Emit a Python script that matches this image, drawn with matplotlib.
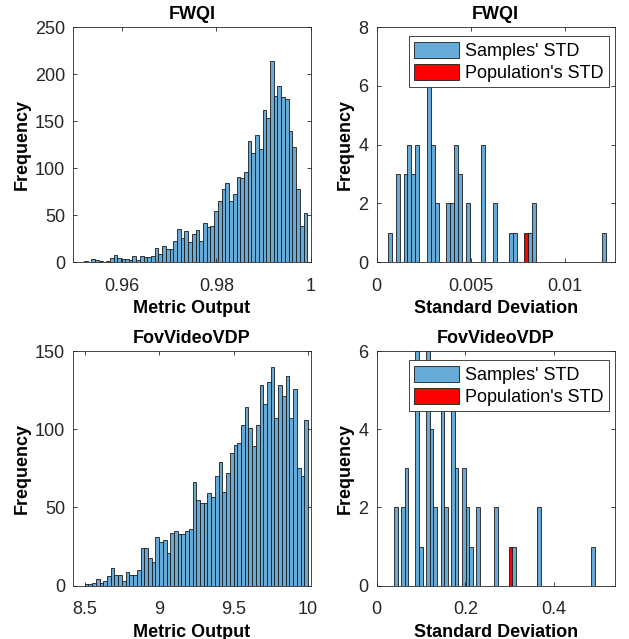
import numpy as np
import matplotlib
matplotlib.use('Agg')
import matplotlib.pyplot as plt

plt.rcParams['font.family'] = ['Liberation Sans', 'DejaVu Sans']
plt.rcParams['font.size'] = 13

# FWQI metric output histogram
fwqi_start = 0.95187
fwqi_width = 0.00079
fwqi_counts = [1, 0, 3, 2, 1, 0, 1, 5, 8, 5, 4, 4, 2, 7, 2, 7, 6, 6, 7, 15,
               9, 17, 14, 14, 23, 35, 26, 33, 22, 30, 34, 23, 42, 37, 39, 55, 65, 78, 84, 65,
               73, 91, 90, 96, 129, 116, 135, 120, 162, 153, 214, 177, 187, 176, 173, 140, 123, 78, 39, 52]

# FovVideoVDP metric output histogram
fov_start = 8.5
fov_width = 0.025
fov_counts = [1, 1, 2, 4, 2, 3, 6, 11, 7, 7, 3, 9, 7, 7, 10, 24, 24, 18, 15, 31,
              28, 29, 21, 34, 35, 33, 33, 35, 36, 66, 55, 53, 53, 59, 57, 70, 79, 60, 72, 85,
              90, 91, 103, 114, 101, 89, 103, 128, 116, 130, 140, 107, 128, 121, 134, 107, 126, 75, 70, 106]

# samples' STD histograms (bin index -> count), population STD bin
fwqi_std_start = 0.0006
fwqi_std_width = 0.000207
fwqi_std_hits = {0: 1, 2: 3, 4: 3, 5: 4, 6: 3, 7: 4, 10: 6, 11: 4, 12: 2, 15: 2, 16: 2,
                 17: 4, 18: 3, 20: 2, 24: 4, 27: 2, 31: 1, 32: 1, 36: 1, 37: 2, 55: 1}
fwqi_pop_bin = 35

fov_std_start = 0.039
fov_std_width = 0.00808
fov_std_hits = {0: 2, 2: 2, 3: 3, 6: 6, 7: 1, 9: 6, 10: 4, 11: 2, 13: 5, 14: 2, 16: 5,
                17: 3, 19: 3, 20: 2, 21: 1, 23: 2, 28: 2, 33: 1, 40: 2, 55: 1}
fov_pop_bin = 32
n_std_bins = 56

blue = '#66AAD7'
edge = '#1a1a1a'
axcol = '#262626'


def style(ax):
    for s in ax.spines.values():
        s.set_color(axcol)
        s.set_linewidth(0.6)
    ax.tick_params(direction='in', top=True, right=True, length=3, width=0.6,
                   colors=axcol, labelsize=13)
    ax.tick_params(axis='x', pad=11)
    ax.tick_params(axis='y', pad=6)
    ax.yaxis.labelpad = 3


def hist_panel(ax, start, width, counts, title, xlim, ylim, xticks, yticks, xticklabels):
    edges = start + width * np.arange(len(counts))
    ax.bar(edges, counts, width=width, align='edge', color=blue, edgecolor=edge, linewidth=0.6)
    ax.set_xlim(xlim)
    ax.set_ylim(ylim)
    ax.set_xticks(xticks)
    ax.set_xticklabels(xticklabels)
    ax.set_yticks(yticks)
    ax.set_title(title, fontweight='bold', fontsize=13, pad=6)
    ax.set_xlabel('Metric Output', fontweight='bold', fontsize=13)
    ax.set_ylabel('Frequency', fontweight='bold', fontsize=13)
    style(ax)


def std_panel(ax, start, width, hits, pop_bin, title, xlim, ylim, xticks, yticks, xticklabels):
    counts = np.zeros(n_std_bins)
    for k, v in hits.items():
        counts[k] = v
    edges = start + width * np.arange(n_std_bins)
    ax.bar(edges, counts, width=width, align='edge', color=blue, edgecolor=edge,
           linewidth=0.6, label="Samples' STD")
    ax.bar([edges[pop_bin]], [1], width=width, align='edge', color='red', edgecolor=edge,
           linewidth=0.6, label="Population's STD")
    ax.set_xlim(xlim)
    ax.set_ylim(ylim)
    ax.set_xticks(xticks)
    ax.set_xticklabels(xticklabels)
    ax.set_yticks(yticks)
    ax.set_title(title, fontweight='bold', fontsize=13, pad=6)
    ax.set_xlabel('Standard Deviation', fontweight='bold', fontsize=13)
    ax.set_ylabel('Frequency', fontweight='bold', fontsize=13)
    leg = ax.legend(loc='upper right', bbox_to_anchor=(0.975, 0.96), borderaxespad=0,
                    fontsize=13, fancybox=False, framealpha=1, handlelength=2.5,
                    handleheight=1.0, handletextpad=0.3, borderpad=0.3, labelspacing=0.2)
    leg.get_frame().set_edgecolor(axcol)
    leg.get_frame().set_linewidth(0.6)
    style(ax)


fig = plt.figure(figsize=(6.29, 6.39), dpi=100)
ax1 = fig.add_axes([0.1165, 0.5895, 0.3774, 0.3682])
ax2 = fig.add_axes([0.5989, 0.5895, 0.3784, 0.3682])
ax3 = fig.add_axes([0.1165, 0.0834, 0.3774, 0.3673])
ax4 = fig.add_axes([0.5989, 0.0834, 0.3784, 0.3673])

hist_panel(ax1, fwqi_start, fwqi_width, fwqi_counts, 'FWQI', (0.9496, 1.0), (0, 250),
           [0.96, 0.98, 1.0], [0, 50, 100, 150, 200, 250], ['0.96', '0.98', '1'])
std_panel(ax2, fwqi_std_start, fwqi_std_width, fwqi_std_hits, fwqi_pop_bin, 'FWQI',
          (0, 0.01265), (0, 8), [0, 0.005, 0.01], [0, 2, 4, 6, 8], ['0', '0.005', '0.01'])
hist_panel(ax3, fov_start, fov_width, fov_counts, 'FovVideoVDP', (8.4234, 10.018), (0, 150),
           [8.5, 9, 9.5, 10], [0, 50, 100, 150], ['8.5', '9', '9.5', '10'])
std_panel(ax4, fov_std_start, fov_std_width, fov_std_hits, fov_pop_bin, 'FovVideoVDP',
          (0, 0.537), (0, 6), [0, 0.2, 0.4], [0, 2, 4, 6], ['0', '0.2', '0.4'])

fig.savefig('out.png', dpi=100)
